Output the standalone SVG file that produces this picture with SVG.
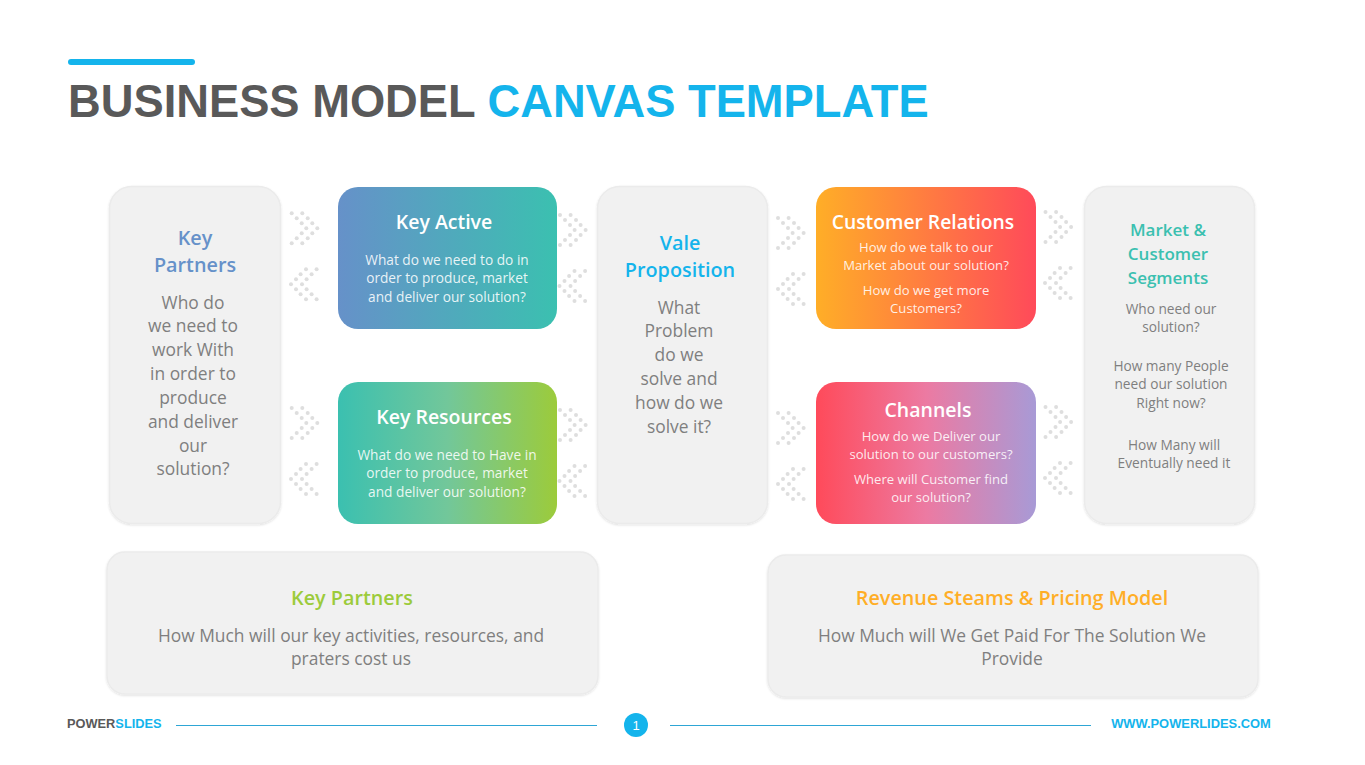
<svg xmlns="http://www.w3.org/2000/svg" width="1365" height="765" viewBox="0 0 1365 765">
<style>
text{font-family:"Open Sans","Noto Sans",sans-serif;text-anchor:middle}
.panel{fill:#f1f1f1;stroke:#ebebeb;stroke-width:1.5;filter:url(#sh)}
.h1{font-size:19.8px;font-weight:600}
.h3{font-size:17px;font-weight:600;fill:#3bc0b0}
.h2{font-size:19.5px;font-weight:600;fill:#fff}
.b1{font-size:17.4px;fill:#7f7f7f}
.b2{font-size:13.7px;fill:#7f7f7f}
.w{font-size:13.7px;fill:#fff;fill-opacity:.88}
.w2{font-size:13.1px;fill:#fff;fill-opacity:.88}
.t{font-family:"Liberation Sans",sans-serif;font-size:45.3px;font-weight:700;text-anchor:start}
.f{font-family:"Liberation Sans",sans-serif;font-size:12.8px;font-weight:700}
circle.d{fill:#dedede}
</style>
<defs>
<filter id="sh" x="-5%" y="-5%" width="110%" height="110%"><feDropShadow dx="0" dy="1" stdDeviation="1" flood-color="#000" flood-opacity=".12"/></filter>
<linearGradient id="g1"><stop offset="0" stop-color="#6691c9"/><stop offset="1" stop-color="#3bc0b0"/></linearGradient>
<linearGradient id="g2"><stop offset="0" stop-color="#3bc0b0"/><stop offset=".5" stop-color="#72c79a"/><stop offset="1" stop-color="#9ccb3b"/></linearGradient>
<linearGradient id="g3"><stop offset="0" stop-color="#ffae27"/><stop offset="1" stop-color="#ff4a5a"/></linearGradient>
<linearGradient id="g4"><stop offset="0" stop-color="#ff4a5a"/><stop offset=".5" stop-color="#ec7aa2"/><stop offset="1" stop-color="#a89ad6"/></linearGradient>
<g id="r">
<circle class="d" cx="0" cy="0" r="2"/><circle class="d" cx="10.6" cy="0" r="2"/>
<circle class="d" cx="5" cy="5" r="2"/><circle class="d" cx="16" cy="5" r="2"/>
<circle class="d" cx="10" cy="10" r="2"/><circle class="d" cx="20.6" cy="10" r="2"/>
<circle class="d" cx="14.6" cy="15" r="2"/><circle class="d" cx="25.6" cy="15" r="2"/>
<circle class="d" cx="10" cy="20" r="2"/><circle class="d" cx="20.6" cy="20" r="2"/>
<circle class="d" cx="5" cy="25" r="2"/><circle class="d" cx="16" cy="25" r="2"/>
<circle class="d" cx="0" cy="30" r="2"/><circle class="d" cx="10.6" cy="30" r="2"/>
</g>
<g id="l"><use href="#r" transform="matrix(-1 0 0 1 25.6 0)"/></g>
</defs>
<g id="title">
<rect x="68" y="59" width="127" height="6" rx="3" fill="#14b4ec"/>
<text class="t" x="68" y="117" fill="#595959">BUSINESS MODEL <tspan fill="#14b4ec">CANVAS TEMPLATE</tspan></text>
</g>
<g id="connectors">
<use href="#r" x="291.7" y="213.3"/><use href="#l" x="291" y="269.3"/>
<use href="#r" x="291.7" y="408"/><use href="#l" x="291" y="464"/>
<use href="#r" x="560" y="215"/><use href="#l" x="559.5" y="271"/>
<use href="#r" x="560" y="410"/><use href="#l" x="559.5" y="466"/>
<use href="#r" x="778" y="218"/><use href="#l" x="778" y="274"/>
<use href="#r" x="778" y="413"/><use href="#l" x="778" y="469"/>
<use href="#r" x="1045.5" y="212"/><use href="#l" x="1045" y="268"/>
<use href="#r" x="1045.5" y="407"/><use href="#l" x="1045" y="463"/>
</g>
<g id="key-partners">
<rect class="panel" x="109.500" y="186.500" width="171" height="337" rx="22"/>
<text class="h1" x="195" y="245" fill="#6691c9">Key</text><text class="h1" x="195" y="272" fill="#6691c9">Partners</text>
<text class="b1" x="193" y="309">Who do</text><text class="b1" x="193" y="332">we need to</text><text class="b1" x="193" y="356">work With</text><text class="b1" x="193" y="380">in order to</text><text class="b1" x="193" y="404">produce</text><text class="b1" x="193" y="428">and deliver</text><text class="b1" x="193" y="452">our</text><text class="b1" x="193" y="475">solution?</text>
</g>
<g id="key-active">
<rect x="338" y="187" width="219" height="142" rx="20" fill="url(#g1)"/>
<text class="h2" x="444" y="229">Key Active</text>
<text class="w" x="447" y="265">What do we need to do in</text><text class="w" x="447" y="283">order to produce, market</text><text class="w" x="447" y="302">and deliver our solution?</text>
</g>
<g id="key-resources">
<rect x="338" y="382" width="219" height="142" rx="20" fill="url(#g2)"/>
<text class="h2" x="444" y="424">Key Resources</text>
<text class="w" x="447" y="460">What do we need to Have in</text><text class="w" x="447" y="478">order to produce, market</text><text class="w" x="447" y="497">and deliver our solution?</text>
</g>
<g id="value">
<rect class="panel" x="597.500" y="186.500" width="170" height="337" rx="22"/>
<text class="h1" x="680" y="250" fill="#14b4ec">Vale</text><text class="h1" x="680" y="277" fill="#14b4ec">Proposition</text>
<text class="b1" x="679" y="314">What</text><text class="b1" x="679" y="337">Problem</text><text class="b1" x="679" y="361">do we</text><text class="b1" x="679" y="385">solve and</text><text class="b1" x="679" y="409">how do we</text><text class="b1" x="679" y="433">solve it?</text>
</g>
<g id="customer-relations">
<rect x="816" y="187" width="220" height="142" rx="20" fill="url(#g3)"/>
<text class="h2" x="923" y="229" style="font-size:19.3px">Customer Relations</text>
<text class="w2" x="926" y="252">How do we talk to our</text><text class="w2" x="926" y="270">Market about our solution?</text><text class="w2" x="926" y="295">How do we get more</text><text class="w2" x="926" y="313">Customers?</text>
</g>
<g id="channels">
<rect x="816" y="382" width="220" height="142" rx="20" fill="url(#g4)"/>
<text class="h2" x="928" y="417">Channels</text>
<text class="w2" x="931" y="441">How do we Deliver our</text><text class="w2" x="931" y="459">solution to our customers?</text><text class="w2" x="931" y="484">Where will Customer find</text><text class="w2" x="931" y="502">our solution?</text>
</g>
<g id="segments">
<rect class="panel" x="1084.500" y="186.500" width="170" height="337" rx="22"/>
<text class="h3" x="1168" y="236">Market &amp;</text><text class="h3" x="1168" y="260">Customer</text><text class="h3" x="1168" y="284">Segments</text>
<text class="b2" x="1171" y="314">Who need our</text><text class="b2" x="1171" y="332">solution?</text>
<text class="b2" x="1171" y="371">How many People</text><text class="b2" x="1171" y="389">need our solution</text><text class="b2" x="1171" y="408">Right now?</text>
<text class="b2" x="1174" y="450">How Many will</text><text class="b2" x="1174" y="468">Eventually need it</text>
</g>
<g id="cost">
<rect class="panel" x="107" y="552" width="491" height="142" rx="18"/>
<text class="h1" x="352" y="605" fill="#9ccb3b">Key Partners</text>
<text class="b1" x="351" y="642">How Much will our key activities, resources, and</text><text class="b1" x="351" y="665">praters cost us</text>
</g>
<g id="revenue">
<rect class="panel" x="768" y="555" width="490" height="142" rx="18"/>
<text class="h1" x="1012" y="605" fill="#ffae27">Revenue Steams &amp; Pricing Model</text>
<text class="b1" x="1012" y="642">How Much will We Get Paid For The Solution We</text><text class="b1" x="1012" y="665">Provide</text>
</g>
<g id="footer">
<text class="f" x="67" y="728" style="text-anchor:start" fill="#595959">POWER<tspan fill="#14b4ec">SLIDES</tspan></text>
<line x1="176" y1="725.500" x2="597" y2="725.500" stroke="#2ea6d5"/>
<circle cx="636" cy="725" r="12" fill="#14b4ec"/>
<text x="636" y="730" fill="#fff" style="font-size:13px;font-family:'Liberation Sans',sans-serif">1</text>
<line x1="670" y1="725.500" x2="1091" y2="725.500" stroke="#2ea6d5"/>
<text class="f" x="1191" y="728" fill="#14b4ec" style="font-size:12.9px">WWW.POWERLIDES.COM</text>
</g>
</svg>
